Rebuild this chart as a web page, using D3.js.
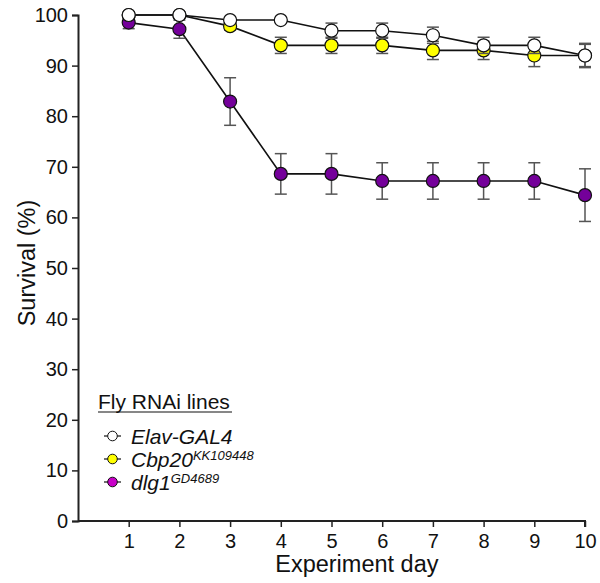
<!DOCTYPE html>
<html>
<head>
<meta charset="utf-8">
<script src="https://cdnjs.cloudflare.com/ajax/libs/d3/7.8.5/d3.min.js"></script>
<style>
  body { margin: 0; background: #fff; }
  svg text { font-family: 'Liberation Sans', Arial, sans-serif; fill: #111; }
</style>
</head>
<body>
<svg id="chart" width="600" height="583"></svg>
<script>

// data
var days = [1, 2, 3, 4, 5, 6, 7, 8, 9, 10];
var yTicks = [0, 10, 20, 30, 40, 50, 60, 70, 80, 90, 100];

var elavMean = [100, 100, 99, 99, 96.9, 96.9, 96, 94, 94, 92];
var elavErr  = [0, 0, 0, 0, 1.5, 1.5, 1.6, 1.6, 1.6, 2.4];

var cbpMean = [100, 100, 97.8, 94, 94, 94, 93, 93, 92, 92];
var cbpErr  = [0, 0, 0.8, 1.6, 1.6, 1.6, 1.8, 1.8, 2.2, 2.2];

var dlgMean = [98.5, 97.2, 82.9, 68.6, 68.6, 67.2, 67.2, 67.2, 67.2, 64.4];
var dlgErr  = [1.2, 1.8, 4.7, 4, 4, 3.6, 3.6, 3.6, 3.6, 5.2];

var series = [
  { name: "Elav-GAL4", sup: "", mean: elavMean, err: elavErr, fill: "#ffffff", legendFill: "#ffffff" },
  { name: "Cbp20", sup: "KK109448", mean: cbpMean, err: cbpErr, fill: "#ffff00", legendFill: "#ffff00" },
  { name: "dlg1", sup: "GD4689", mean: dlgMean, err: dlgErr, fill: "#74009a", legendFill: "#c800c8" }
];

var svg = d3.select("#chart");

var x = d3.scaleLinear().domain([0, 10]).range([78, 585]);
var y = d3.scaleLinear().domain([0, 100]).range([521, 15]);

// axes
var yAxis = svg.append("g")
  .attr("transform", "translate(78,0)")
  .call(d3.axisLeft(y).tickValues(yTicks).tickSize(6).tickPadding(4));

var xAxis = svg.append("g")
  .attr("transform", "translate(0,521)")
  .call(d3.axisBottom(x).tickValues(days).tickSize(6).tickPadding(4));

[yAxis, xAxis].forEach(function(g) {
  g.select(".domain").attr("stroke", "#222").attr("stroke-width", 2);
  g.selectAll(".tick line").attr("stroke", "#222").attr("stroke-width", 1.5);
  g.selectAll(".tick text").attr("font-size", 20).style("fill", "#111");
});
xAxis.selectAll(".tick text").attr("dy", "0.85em");
// x axis runs flush with the y axis
xAxis.select(".domain").attr("d", "M78,0H585V6");

svg.append("text")
  .attr("x", x(5.5))
  .attr("y", 572)
  .attr("text-anchor", "middle")
  .attr("font-size", 23.5)
  .text("Experiment day");

svg.append("text")
  .attr("transform", "translate(35,263) rotate(-90)")
  .attr("text-anchor", "middle")
  .attr("font-size", 23.5)
  .text("Survival (%)");

// lines, drawn bottom series first so white stays on top
var line = d3.line()
  .x(function(d, i) { return x(days[i]); })
  .y(function(d) { return y(d); });

var drawOrder = [series[2], series[1], series[0]];

drawOrder.forEach(function(s) {
  var g = svg.append("g");

  g.append("path")
    .datum(s.mean)
    .attr("d", line)
    .attr("fill", "none")
    .attr("stroke", "#111")
    .attr("stroke-width", 1.6);

  var eb = g.selectAll(".err")
    .data(s.mean.map(function(m, i) { return { day: days[i], m: m, e: s.err[i] }; })
      .filter(function(d) { return d.e > 0; }))
    .enter().append("g");

  eb.append("line")
    .attr("x1", function(d) { return x(d.day); })
    .attr("x2", function(d) { return x(d.day); })
    .attr("y1", function(d) { return y(d.m + d.e); })
    .attr("y2", function(d) { return y(d.m - d.e); })
    .attr("stroke", "#555")
    .attr("stroke-width", 1.5);

  [1, -1].forEach(function(sign) {
    eb.append("line")
      .attr("x1", function(d) { return x(d.day) - 6; })
      .attr("x2", function(d) { return x(d.day) + 6; })
      .attr("y1", function(d) { return y(d.m + sign * d.e); })
      .attr("y2", function(d) { return y(d.m + sign * d.e); })
      .attr("stroke", "#555")
      .attr("stroke-width", 1.5);
  });

  g.selectAll("circle")
    .data(s.mean)
    .enter().append("circle")
    .attr("cx", function(d, i) { return x(days[i]); })
    .attr("cy", function(d) { return y(d); })
    .attr("r", 6.5)
    .attr("fill", s.fill)
    .attr("stroke", "#111")
    .attr("stroke-width", 1.2);
});

// legend
var legend = svg.append("g");

legend.append("text")
  .attr("x", 98)
  .attr("y", 409)
  .attr("font-size", 21)
  .text("Fly RNAi lines");

legend.append("line")
  .attr("x1", 98).attr("x2", 232)
  .attr("y1", 412).attr("y2", 412)
  .attr("stroke", "#111").attr("stroke-width", 1.2);

var rows = legend.selectAll(".row")
  .data(series)
  .enter().append("g")
  .attr("transform", function(d, i) { return "translate(0," + (436 + i * 23) + ")"; });

rows.append("line")
  .attr("x1", 104).attr("x2", 121)
  .attr("y1", 0).attr("y2", 0)
  .attr("stroke", "#111").attr("stroke-width", 1.2);

rows.append("circle")
  .attr("cx", 112.5).attr("cy", 0).attr("r", 4.8)
  .attr("fill", function(d) { return d.legendFill; })
  .attr("stroke", "#111").attr("stroke-width", 1);

var labels = rows.append("text")
  .attr("x", 131)
  .attr("y", 7.5)
  .attr("font-size", 21)
  .attr("font-style", "italic");

labels.append("tspan").text(function(d) { return d.name; });
labels.append("tspan")
  .attr("font-size", 13)
  .attr("dy", -7)
  .text(function(d) { return d.sup; });

</script>
</body>
</html>
